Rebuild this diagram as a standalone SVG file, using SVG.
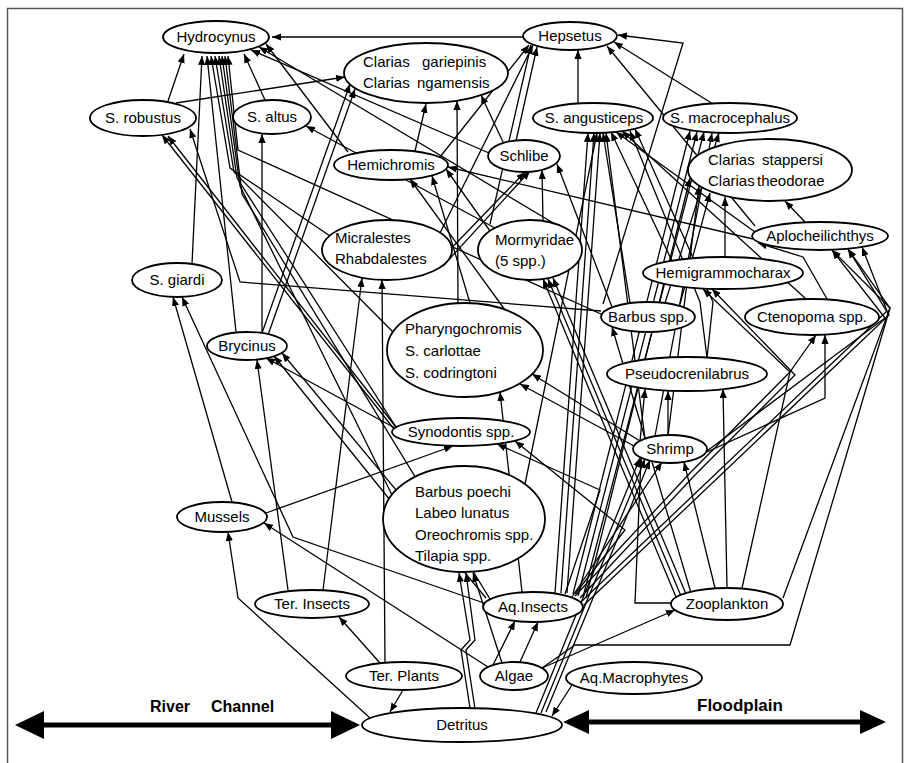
<svg xmlns="http://www.w3.org/2000/svg" width="907" height="763" viewBox="0 0 907 763">
<style>
.c{fill:none;stroke:#000;stroke-width:1.3;marker-end:url(#ah)}
.n ellipse{fill:#fff;stroke:#000;stroke-width:1.8}
.n text,.lab{font-family:"Liberation Sans",Arial,sans-serif;font-size:15px;fill:#000}
.m{text-anchor:middle}
.lab{font-weight:bold;font-size:16px}
.ax{stroke:#000;stroke-width:5}
</style>
<defs>
<marker id="ah" viewBox="0 0 10 8" refX="10" refY="4" markerWidth="9" markerHeight="7.2" markerUnits="userSpaceOnUse" orient="auto"><path d="M0,0 L10,4 L0,8 z" fill="#000"/></marker>
</defs>
<rect x="7.5" y="8.5" width="895" height="770" fill="#fff" stroke="#555" stroke-width="1.5"/>
<g id="connectors">
<polyline class="c" points="523,37 272,37"/>
<polyline class="c" points="168,101 184,54"/>
<polyline class="c" points="265,100 244,54"/>
<polyline class="c" points="348,152 266,44"/>
<polyline class="c" points="192,264 202,56"/>
<polyline class="c" points="236,332 207,56"/>
<polyline class="c" points="330,236 230,168 211,56"/>
<polyline class="c" points="393,332 234,172 215,56"/>
<polyline class="c" points="396,427 237,178 219,56"/>
<polyline class="c" points="392,495 240,186 222,56"/>
<polyline class="c" points="490,599 242,194 225,56"/>
<polyline class="c" points="555,224 259,47"/>
<polyline class="c" points="489,153 251,50"/>
<polyline class="c" points="601,314 238,150 228,56"/>
<polyline class="c" points="176,103 345,77"/>
<polyline class="c" points="394,429 162,135"/>
<polyline class="c" points="399,431 168,136"/>
<polyline class="c" points="601,311 240,282 190,129"/>
<polyline class="c" points="262,333 262,134"/>
<polyline class="c" points="495,228 306,126"/>
<polyline class="c" points="415,151 426,104"/>
<polyline class="c" points="458,304 457,101"/>
<polyline class="c" points="503,142 481,95"/>
<polyline class="c" points="262,333 350,84"/>
<polyline class="c" points="268,335 355,89"/>
<polyline class="c" points="516,141 537,47"/>
<polyline class="c" points="490,224 531,45"/>
<polyline class="c" points="578,103 578,50"/>
<polyline class="c" points="713,104 614,42"/>
<polyline class="c" points="603,304 683,43 618,35"/>
<polyline class="c" points="755,226 607,46"/>
<polyline class="c" points="440,233 533,45"/>
<polyline class="c" points="440,157 529,45"/>
<polyline class="c" points="555,593 588,133"/>
<polyline class="c" points="561,593 594,133"/>
<polyline class="c" points="567,593 600,133"/>
<polyline class="c" points="525,484 597,133"/>
<polyline class="c" points="645,439 606,133"/>
<polyline class="c" points="755,232 616,132"/>
<polyline class="c" points="806,299 622,131"/>
<polyline class="c" points="672,261 611,132"/>
<polyline class="c" points="630,303 603,133"/>
<polyline class="c" points="707,358 700,302 630,131"/>
<polyline class="c" points="707,358 713,302 635,129"/>
<polyline class="c" points="573,594 690,131"/>
<polyline class="c" points="578,596 697,132"/>
<polyline class="c" points="583,597 704,132"/>
<polyline class="c" points="655,436 712,133"/>
<polyline class="c" points="665,303 719,133"/>
<polyline class="c" points="805,222 785,201"/>
<polyline class="c" points="725,257 725,197"/>
<polyline class="c" points="586,598 690,178"/>
<polyline class="c" points="668,436 699,186"/>
<polyline class="c" points="680,304 710,193"/>
<polyline class="c" points="827,299 803,257 758,243"/>
<polyline class="c" points="783,598 890,308 832,250"/>
<polyline class="c" points="542,668 575,645 790,645 890,308 848,249"/>
<polyline class="c" points="582,601 887,311 862,247"/>
<polyline class="c" points="584,605 889,315 848,249"/>
<polyline class="c" points="707,451 885,318 832,250"/>
<polyline class="c" points="742,588 790,372 816,335"/>
<polyline class="c" points="707,452 825,398 825,335"/>
<polyline class="c" points="575,596 690,473 790,372 703,289"/>
<polyline class="c" points="580,598 694,476 795,375 712,289"/>
<polyline class="c" points="676,597 543,279"/>
<polyline class="c" points="681,596 548,279"/>
<polyline class="c" points="686,594 553,278"/>
<polyline class="c" points="691,593 612,327"/>
<polyline class="c" points="640,441 645,389"/>
<polyline class="c" points="668,435 668,391"/>
<polyline class="c" points="727,588 723,389"/>
<polyline class="c" points="634,446 520,384"/>
<polyline class="c" points="640,441 532,374"/>
<polyline class="c" points="266,513 453,446"/>
<polyline class="c" points="565,594 600,490 497,444"/>
<polyline class="c" points="575,594 625,530 515,441"/>
<polyline class="c" points="470,708 461,650 470,640 459,573"/>
<polyline class="c" points="475,709 466,650 475,640 466,573"/>
<polyline class="c" points="502,663 473,573"/>
<polyline class="c" points="522,592 500,392"/>
<polyline class="c" points="323,590 362,278"/>
<polyline class="c" points="385,662 382,280"/>
<polyline class="c" points="288,590 257,360"/>
<polyline class="c" points="395,428 266,358"/>
<polyline class="c" points="390,500 274,356"/>
<polyline class="c" points="486,598 282,353"/>
<polyline class="c" points="370,718 238,598 228,532"/>
<polyline class="c" points="488,667 264,523"/>
<polyline class="c" points="232,502 173,297"/>
<polyline class="c" points="484,603 293,537 182,297"/>
<polyline class="c" points="380,663 339,617"/>
<polyline class="c" points="403,690 390,712"/>
<polyline class="c" points="572,685 552,716"/>
<polyline class="c" points="493,665 515,621"/>
<polyline class="c" points="520,662 538,622"/>
<polyline class="c" points="536,713 640,458"/>
<polyline class="c" points="541,713 645,459"/>
<polyline class="c" points="546,712 650,460"/>
<polyline class="c" points="715,588 684,462"/>
<polyline class="c" points="572,597 662,462"/>
<polyline class="c" points="672,603 635,603 641,458"/>
<polyline class="c" points="542,668 675,610"/>
<polyline class="c" points="505,310 410,179"/>
<polyline class="c" points="470,303 432,176"/>
<polyline class="c" points="490,231 446,169"/>
<polyline class="c" points="753,239 448,167"/>
<polyline class="c" points="438,262 525,172"/>
<polyline class="c" points="443,266 530,171"/>
<polyline class="c" points="543,221 542,170"/>
<polyline class="c" points="612,307 557,164"/>
</g>
<g id="axis">
<line class="ax" x1="40" y1="725" x2="335" y2="725"/>
<polygon points="15,725 44,711 44,739"/>
<polygon points="360,725 331,711 331,739"/>
<line class="ax" x1="585" y1="722" x2="865" y2="722"/>
<polygon points="563,722 589,710 589,734"/>
<polygon points="886,722 860,710 860,734"/>
<text class="lab" x="150" y="712">River<tspan x="211">Channel</tspan></text>
<text class="lab" x="697" y="711" style="font-size:17px">Floodplain</text>
</g>
<g id="hydrocynus" class="n"><ellipse cx="216" cy="37" rx="53" ry="16"/><text class="m" x="216" y="42">Hydrocynus</text></g>
<g id="hepsetus" class="n"><ellipse cx="570" cy="36" rx="47" ry="14"/><text class="m" x="570" y="41">Hepsetus</text></g>
<g id="clarias-gariepinis" class="n"><ellipse cx="426" cy="73" rx="82" ry="30"/><text x="363" y="67">Clarias<tspan x="422">gariepinis</tspan></text><text x="363" y="88">Clarias<tspan x="417">ngamensis</tspan></text></g>
<g id="s-robustus" class="n"><ellipse cx="143" cy="118" rx="53" ry="18"/><text class="m" x="143" y="123">S. robustus</text></g>
<g id="s-altus" class="n"><ellipse cx="272" cy="117" rx="39" ry="17"/><text class="m" x="272" y="122">S. altus</text></g>
<g id="hemichromis" class="n"><ellipse cx="391" cy="165" rx="57" ry="15"/><text class="m" x="391" y="170">Hemichromis</text></g>
<g id="schlibe" class="n"><ellipse cx="524" cy="156" rx="36" ry="16"/><text class="m" x="524" y="161">Schlibe</text></g>
<g id="s-angusticeps" class="n"><ellipse cx="593" cy="118" rx="60" ry="15"/><text class="m" x="594" y="123">S. angusticeps</text></g>
<g id="s-macrocephalus" class="n"><ellipse cx="730" cy="118" rx="67" ry="15"/><text class="m" x="730" y="123">S. macrocephalus</text></g>
<g id="clarias-stappersi" class="n"><ellipse cx="770" cy="170" rx="82" ry="31"/><text x="708" y="165">Clarias<tspan x="762">stappersi</tspan></text><text x="708" y="186">Clarias<tspan x="757">theodorae</tspan></text></g>
<g id="micralestes" class="n"><ellipse cx="387" cy="250" rx="65" ry="30"/><text x="335" y="243">Micralestes</text><text x="335" y="264">Rhabdalestes</text></g>
<g id="mormyridae" class="n"><ellipse cx="530" cy="250" rx="52" ry="30"/><text x="495" y="245">Mormyridae</text><text x="495" y="266">(5 spp.)</text></g>
<g id="aplocheilichthys" class="n"><ellipse cx="820" cy="236" rx="68" ry="14"/><text class="m" x="820" y="241">Aplocheilichthys</text></g>
<g id="hemigrammocharax" class="n"><ellipse cx="723" cy="273" rx="80" ry="16"/><text class="m" x="723" y="278">Hemigrammocharax</text></g>
<g id="s-giardi" class="n"><ellipse cx="177" cy="280" rx="45" ry="17"/><text class="m" x="177" y="285">S. giardi</text></g>
<g id="barbus-spp" class="n"><ellipse cx="648" cy="317" rx="47" ry="15"/><text class="m" x="648" y="322">Barbus spp.</text></g>
<g id="ctenopoma" class="n"><ellipse cx="812" cy="317" rx="67" ry="18"/><text class="m" x="812" y="322">Ctenopoma spp.</text></g>
<g id="pharyngochromis" class="n"><ellipse cx="465" cy="350" rx="78" ry="47"/><text x="405" y="334">Pharyngochromis</text><text x="405" y="356">S. carlottae</text><text x="405" y="378">S. codringtoni</text></g>
<g id="brycinus" class="n"><ellipse cx="247" cy="346" rx="40" ry="14"/><text class="m" x="247" y="351">Brycinus</text></g>
<g id="pseudocrenilabrus" class="n"><ellipse cx="687" cy="374" rx="80" ry="17"/><text class="m" x="687" y="379">Pseudocrenilabrus</text></g>
<g id="synodontis" class="n"><ellipse cx="461" cy="432" rx="69" ry="14"/><text class="m" x="461" y="437">Synodontis spp.</text></g>
<g id="shrimp" class="n"><ellipse cx="670" cy="449" rx="37" ry="14"/><text class="m" x="670" y="454">Shrimp</text></g>
<g id="barbus-poechi" class="n"><ellipse cx="464" cy="519" rx="81" ry="53"/><text x="415" y="497">Barbus poechi</text><text x="415" y="518">Labeo lunatus</text><text x="415" y="540">Oreochromis spp.</text><text x="415" y="561">Tilapia spp.</text></g>
<g id="mussels" class="n"><ellipse cx="222" cy="517" rx="45" ry="15"/><text class="m" x="222" y="522">Mussels</text></g>
<g id="ter-insects" class="n"><ellipse cx="312" cy="604" rx="57" ry="14"/><text class="m" x="312" y="609">Ter. Insects</text></g>
<g id="aq-insects" class="n"><ellipse cx="533" cy="607" rx="50" ry="15"/><text class="m" x="533" y="612">Aq.Insects</text></g>
<g id="zooplankton" class="n"><ellipse cx="727" cy="604" rx="56" ry="16"/><text class="m" x="727" y="609">Zooplankton</text></g>
<g id="ter-plants" class="n"><ellipse cx="404" cy="676" rx="58" ry="14"/><text class="m" x="404" y="681">Ter. Plants</text></g>
<g id="algae" class="n"><ellipse cx="514" cy="676" rx="34" ry="14"/><text class="m" x="514" y="681">Algae</text></g>
<g id="aq-macrophytes" class="n"><ellipse cx="634" cy="678" rx="68" ry="16"/><text class="m" x="634" y="683">Aq.Macrophytes</text></g>
<g id="detritus" class="n"><ellipse cx="462" cy="725" rx="100" ry="17"/><text class="m" x="462" y="730">Detritus</text></g>
</svg>
